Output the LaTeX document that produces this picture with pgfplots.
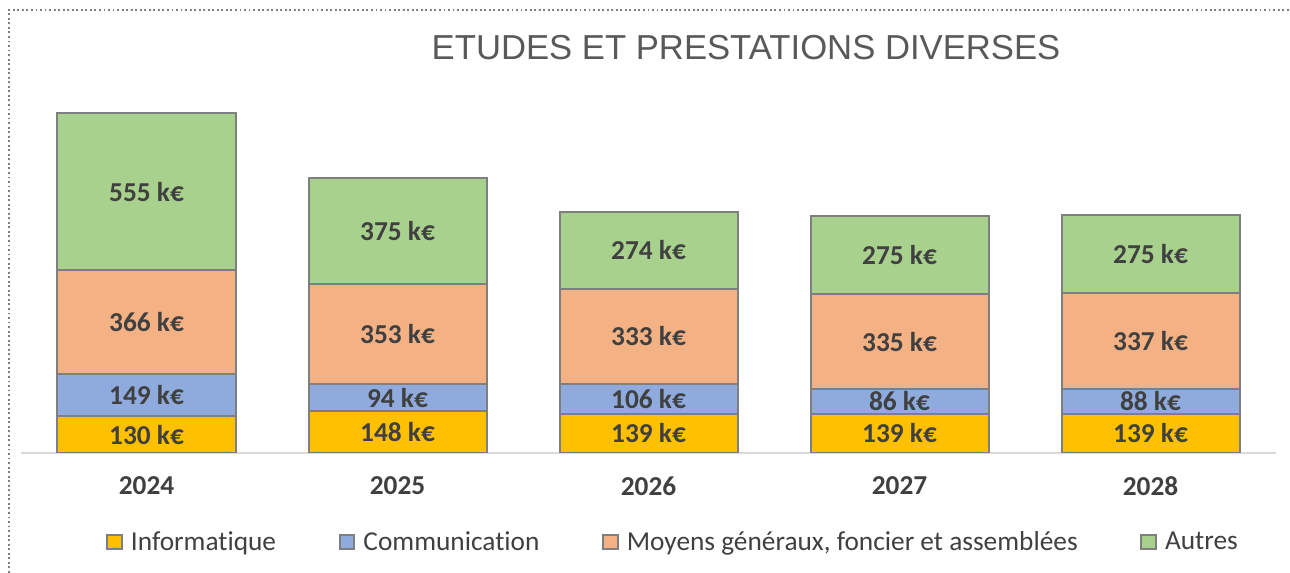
\documentclass[border=0pt]{standalone}
\usepackage{pgfplots}
\pgfplotsset{compat=1.18}
\usepackage{fontspec}
\setmainfont{Carlito}[Ligatures=CommonOff]
\newfontfamily\titlefont{Liberation Sans}
\definecolor{cInfo}{HTML}{FFC000}
\definecolor{cComm}{HTML}{8FAADC}
\definecolor{cMoy}{HTML}{F4B183}
\definecolor{cAut}{HTML}{A9D18E}
\definecolor{cEdge}{HTML}{7F7F7F}
\definecolor{cTxt}{HTML}{404040}
\definecolor{cTitle}{HTML}{595959}
\definecolor{cAxis}{HTML}{D9D9D9}
\begin{document}
\begin{tikzpicture}
\path[use as bounding box] (0,0) rectangle (967.5pt,-429.75pt);
\draw[cEdge, dotted, line width=1.4pt] (6.75pt,-450pt) -- (6.75pt,-7.5pt) -- (980pt,-7.5pt);
\node[text=cTitle, font=\titlefont\fontsize{26}{30}\selectfont] at (559.5pt,-36pt) {ETUDES ET PRESTATIONS DIVERSES};
\begin{axis}[
  at={(15.75pt,-339.75pt)}, anchor=south west,
  scale only axis, width=941.25pt, height=276.25pt,
  ybar stacked, bar width=133.5pt,
  xmin=-0.5, xmax=4.5, ymin=0, ymax=1300,
  hide y axis,
  axis x line*=bottom,
  x axis line style={draw=cAxis, line width=1.5pt, -},
  xtick={0,1,2,3,4},
  xticklabels={2024,2025,2026,2027,2028},
  major tick length=0pt,
  xticklabel style={font=\fontsize{20.5}{24}\selectfont\bfseries, text=cTxt, yshift=-14pt},
  every axis plot/.append style={draw=cEdge, line width=1.5pt},
  /pgf/number format/assume math mode=true,
  /pgf/number format/fixed, /pgf/number format/precision=0,
  nodes near coords={\pgfmathprintnumber{\pgfplotspointmeta} k€},
  every node near coord/.append style={font=\fontsize{20.5}{24}\selectfont\bfseries, text=cTxt, anchor=center},
  legend columns=4,
  legend style={at={(0.0677,-0.2416)}, anchor=west, draw=none, fill=none, inner sep=0pt,
    font=\fontsize{20.5}{24}\selectfont, text=cTxt,
    nodes={inner sep=0pt},
    /tikz/every odd column/.append style={column sep=6pt},
    /tikz/every even column/.append style={column sep=47pt}},
  legend image code/.code={\draw[#1, line width=1.5pt] (0pt,-5.5pt) rectangle (11pt,5.5pt);},
]
\addplot[fill=cInfo] coordinates {(0,130) (1,148) (2,139) (3,139) (4,139)};
\addplot[fill=cComm] coordinates {(0,149) (1,94) (2,106) (3,86) (4,88)};
\addplot[fill=cMoy] coordinates {(0,366) (1,353) (2,333) (3,335) (4,337)};
\addplot[fill=cAut] coordinates {(0,555) (1,375) (2,274) (3,275) (4,275)};
\legend{Informatique, Communication, Moyens généraux{,} foncier et assemblées, Autres}
\end{axis}
\end{tikzpicture}
\end{document}
